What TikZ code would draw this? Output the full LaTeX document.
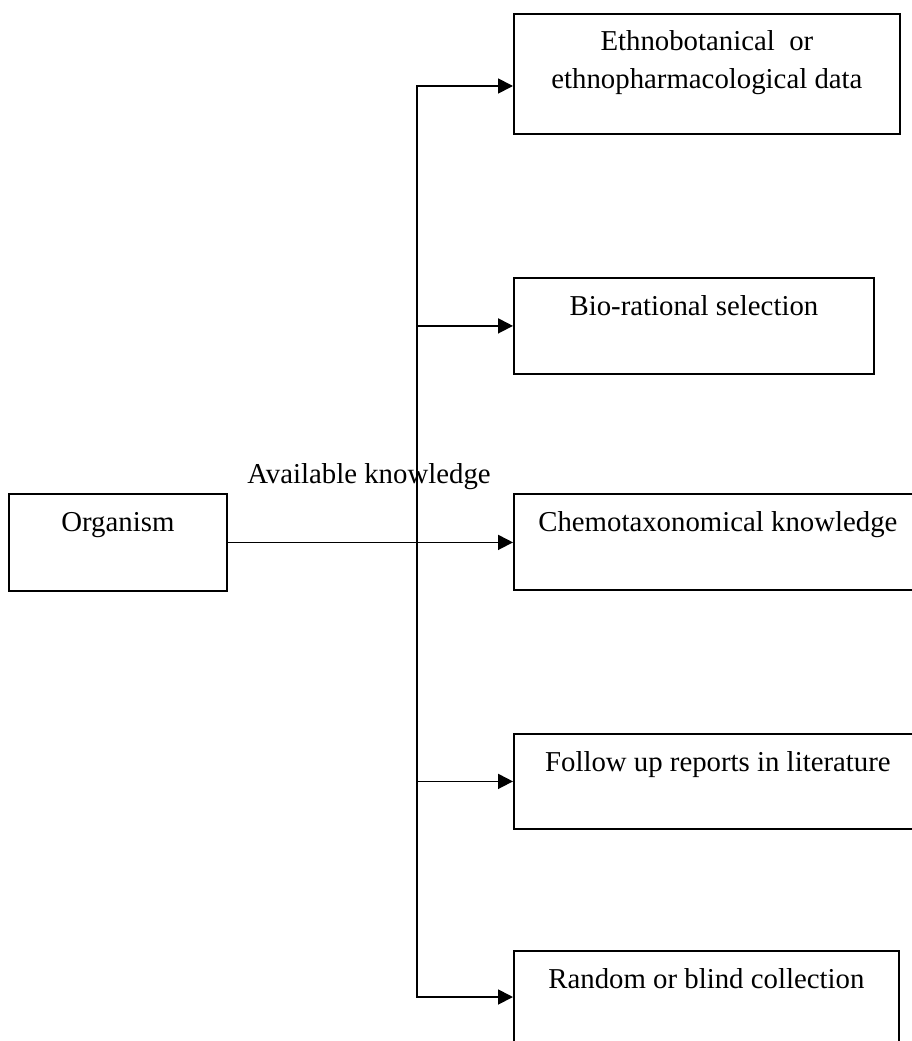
\documentclass[tikz,border=0pt]{standalone}
\usepackage{fontspec}
\setmainfont{Liberation Serif}
\usetikzlibrary{arrows.meta,positioning}

\begin{document}
\begin{tikzpicture}[
  x=1pt, y=-1pt,
  font=\fontsize{28.8}{38}\selectfont,
  >={Triangle[length=15pt,width=15pt]},
  block/.style={draw, line width=1.8pt, anchor=north west, align=center, inner sep=0pt, text height=38pt},
  line/.style={->, line width=1.8pt}
  ]
  \useasboundingbox (0,0) rectangle (912,1041);
  \clip (0,0) rectangle (912,1041);

  \node[block, minimum width=218pt, text depth=59pt] (org) at (8,493) {Organism};
  \node[block, minimum width=386pt, text height=75pt, text depth=45pt] (ethno) at (513,13) {Ethnobotanical\ \ or\\ethnopharmacological data};
  \node[block, minimum width=360pt, text depth=58pt] (bio) at (513,277) {Bio-rational selection};
  \node[block, minimum width=408pt, text depth=58pt] (chemo) at (513,493) {Chemotaxonomical knowledge};
  \node[block, minimum width=408pt, text depth=57pt] (follow) at (513,733) {Follow up reports in literature};
  \node[block, minimum width=385pt, text depth=58pt] (rand) at (513,950) {Random or blind collection};
  \node[anchor=base] (avail) at (369,483) {Available knowledge};

  \coordinate (top) at (417,86);
  \coordinate (bot) at (417,997);

  \draw[line, <->] (top -| ethno.west) -- (top) -- (bot) -- (bot -| rand.west);
  \draw[line] (bio.west -| top) -- (bio.west);
  \draw[line] (org.east) -- (org.east -| chemo.west);
  \draw[line] (follow.west -| top) -- (follow.west);
\end{tikzpicture}
\end{document}
